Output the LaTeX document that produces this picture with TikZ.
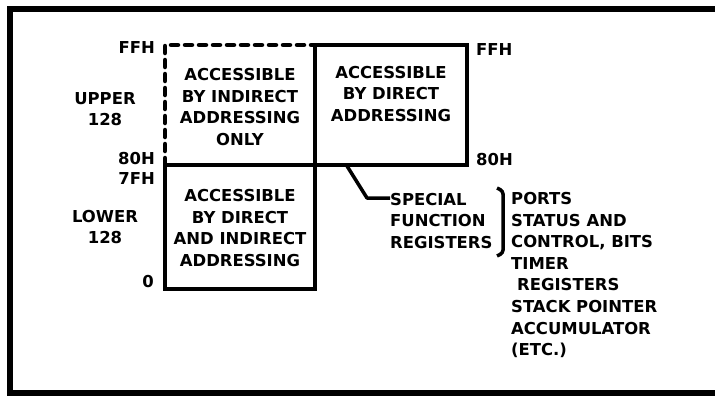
\documentclass[tikz,border=0pt]{standalone}
\usepackage{fontspec}
\setmainfont{DejaVu Sans}
\usepackage{tikz}

\begin{document}
\begin{tikzpicture}[x=1bp,y=-1bp,
  font=\bfseries\fontsize{16.5}{21.7}\selectfont,
  wall/.style={line width=4.5bp},
  label/.style={inner sep=0pt, align=center}]
\useasboundingbox (0,0) rectangle (715,399);
% outer frame, cut off on the right
\draw[line width=6bp] (716,9) -- (10,9) -- (10,393) -- (716,393);
% upper 128, indirect only
\draw[wall, line cap=round, dash pattern=on 7bp off 7bp] (165,165) -- (165,45) -- (315,45);
% upper 128 / SFR space, direct only
\draw[wall] (315,165) -- (315,45) -- (467,45) -- (467,165) -- (165,165);
% lower 128
\draw[wall] (165,165) -- (165,289) -- (315,289) -- (315,165);
\node[label] (upperIndirect) at (240,107) {ACCESSIBLE\\BY INDIRECT\\ADDRESSING\\ONLY};
\node[label] (upperDirect) at (391,94) {ACCESSIBLE\\BY DIRECT\\ADDRESSING};
\node[label] (lowerBoth) at (240,228) {ACCESSIBLE\\BY DIRECT\\AND INDIRECT\\ADDRESSING};
% addresses
\node[label, anchor=east] (ffhLeft) at (155,48) {FFH};
\node[label] (upperSize) at (105,109) {UPPER\\128};
\node[label, anchor=east] (eightyLeft) at (155,159) {80H};
\node[label, anchor=east] (sevenfLeft) at (155,179) {7FH};
\node[label] (lowerSize) at (105,227) {LOWER\\128};
\node[label, anchor=east] (zeroLeft) at (154,282) {0};
\node[label, anchor=west] (ffhRight) at (476,50) {FFH};
\node[label, anchor=west] (eightyRight) at (476,160) {80H};
% special function registers
\node[label, anchor=west, align=left] (sfr) at (390,221) {SPECIAL\\FUNCTION\\REGISTERS};
\coordinate (sfrTap) at (347,166);
\coordinate (sfrBend) at (367,198);
\draw[line width=3.5bp, line join=round] (sfrTap) -- (sfrBend) -- (sfrBend -| sfr.west);
\draw[line width=3.5bp, rounded corners=3bp] (497,188) -- (503,191) -- (503,253) -- (497,256);
\node[label, anchor=north west, align=left] (sfrList) at (511,192)
  {PORTS\\STATUS AND\\CONTROL, BITS\\TIMER\\\hspace{6bp}REGISTERS\\STACK POINTER\\ACCUMULATOR\\(ETC.)};
\end{tikzpicture}
\end{document}
